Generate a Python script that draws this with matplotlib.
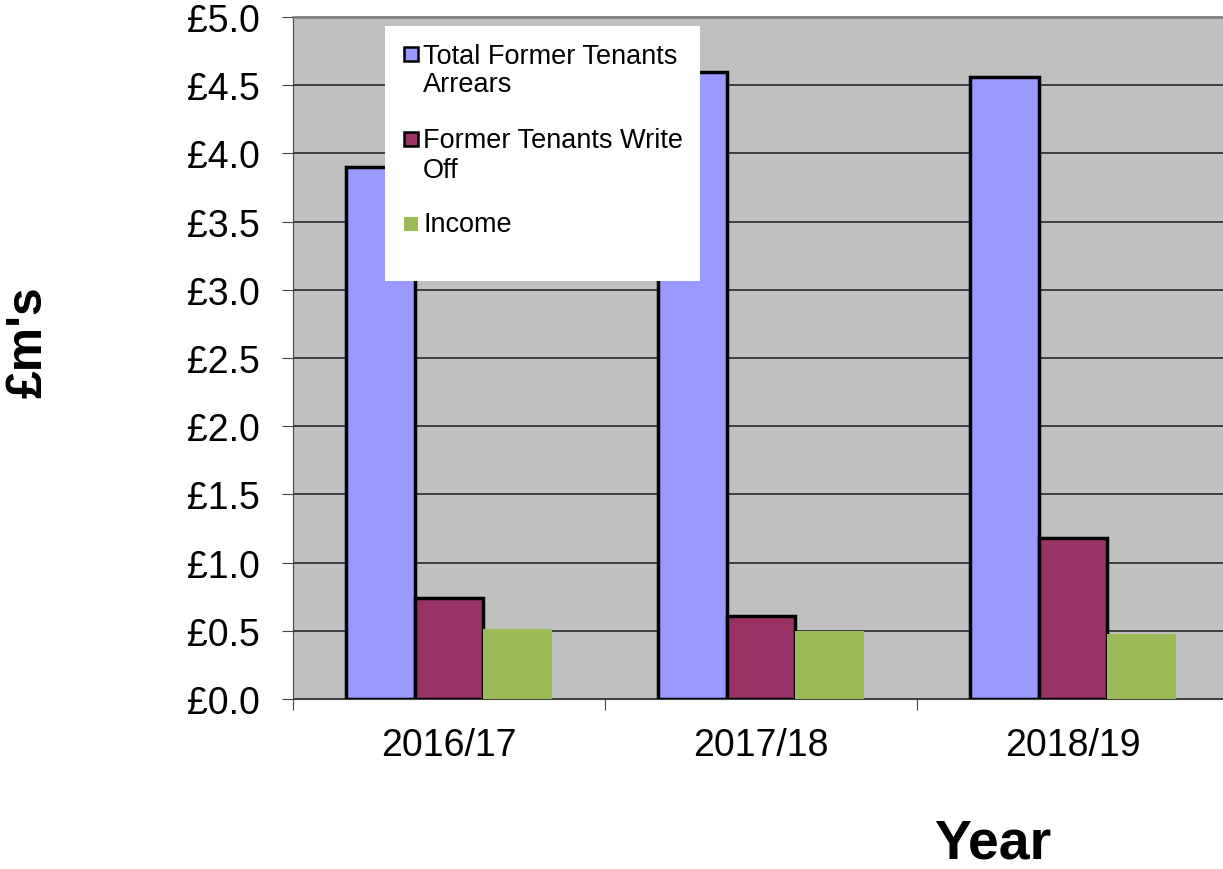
import matplotlib
matplotlib.use("Agg")
import matplotlib.pyplot as plt
from matplotlib.patches import Rectangle
import numpy as np

plt.rcParams['font.family'] = ['Liberation Sans', 'DejaVu Sans']

categories = ["2016/17", "2017/18", "2018/19"]
series_names = ["Total Former Tenants\nArrears", "Former Tenants Write\nOff", "Income"]
total_arrears = [3.9, 4.6, 4.56]
write_off = [0.74, 0.61, 1.18]
income = [0.51, 0.50, 0.48]
y_ticks = [0.0, 0.5, 1.0, 1.5, 2.0, 2.5, 3.0, 3.5, 4.0, 4.5, 5.0]

colors = ["#9999FF", "#993366", "#9BBB59"]
edges = ["black", "black", "none"]

W, H = 1223, 870
fig = plt.figure(figsize=(W/100, H/100), dpi=100)
ax = fig.add_axes([293/W, 1-700/H, 936/W, 682/H])
ax.set_facecolor("#C0C0C0")

x = np.arange(len(categories))
bw = 0.221
for i, (vals, c, e) in enumerate(zip([total_arrears, write_off, income], colors, edges)):
    ax.bar(x + (i-1)*bw, vals, width=bw, color=c, edgecolor=e, linewidth=2.5 if e != "none" else 0, zorder=3)

ax.set_xlim(-0.5, 2.5)
ax.set_ylim(0, 5.0)
ax.set_yticks(y_ticks)
ax.set_yticklabels([f"£{v:.1f}" for v in y_ticks], fontsize=27)
ax.yaxis.grid(True, color="#333333", linewidth=1.3, zorder=1)
ax.set_axisbelow(True)
ax.set_xticks([-0.5, 0.5, 1.5, 2.5])
ax.set_xticklabels([])
ax.set_xticks(x, minor=True)
ax.set_xticklabels(categories, minor=True, fontsize=27)
ax.tick_params(axis='x', which='minor', length=0, pad=20)
ax.tick_params(axis='x', which='major', length=8, direction='out', color='#444444')
ax.tick_params(axis='y', length=8, direction='out', color='#444444', pad=16)
ax.spines["right"].set_visible(False)
ax.spines["top"].set_color("#808080")
ax.spines["top"].set_linewidth(2)
ax.spines["left"].set_color("#444444")
ax.spines["bottom"].set_color("#444444")

# legend drawn manually in figure pixel coords
def fx(px): return px / W
def fy(py): return 1 - py / H
fig.patches.append(Rectangle((fx(385), fy(282)), (700-385)/W, (282-27)/H,
                             transform=fig.transFigure, facecolor="white", edgecolor="none", zorder=5))
square_centers = [55, 140, 225]
text_centers = [71, 156, 225]
for name, c, e, sc, tc in zip(series_names, colors, edges, square_centers, text_centers):
    fig.patches.append(Rectangle((fx(404), fy(sc + 7)), 14/W, 14/H, transform=fig.transFigure,
                                 facecolor=c, edgecolor=e, linewidth=1.8 if e != "none" else 0, zorder=6))
    fig.text(fx(423), fy(tc), name, fontsize=19.5, va="center", ha="left", zorder=7, linespacing=1.15)

fig.text(fx(28), fy(342), "£m's", fontsize=36, fontweight="bold", rotation=90, ha="center", va="center")
fig.text(fx(993), fy(845), "Year", fontsize=40, fontweight="bold", ha="center", va="center")

fig.savefig("out.png", dpi=100)
